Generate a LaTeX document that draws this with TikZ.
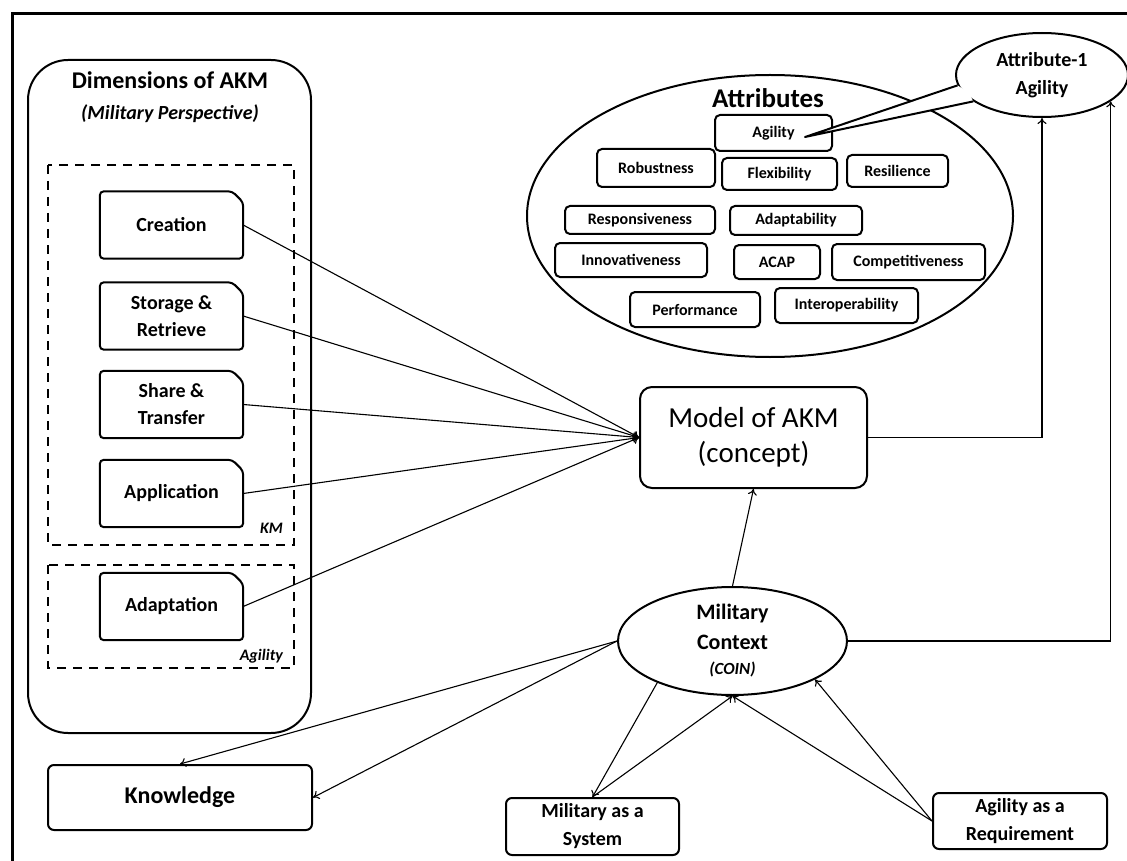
\documentclass[tikz,border=0pt]{standalone}
\usepackage{fontspec}
\setmainfont{Carlito}
\usetikzlibrary{shapes.geometric,arrows.meta,calc}

\begin{document}
\begin{tikzpicture}[x=1pt,y=-1pt,
  bx/.style={line width=2pt},
  dimbox/.style={minimum width=143pt,minimum height=67pt,inner sep=0pt,align=center,font=\fontsize{20}{27}\selectfont\bfseries},
  attrbox/.style={draw,line width=2pt,rounded corners=5pt,inner sep=0pt,font=\fontsize{16}{18}\selectfont\bfseries},
  roundbox/.style={draw,line width=2pt,rounded corners=6pt,inner sep=0pt,align=center,font=\fontsize{20}{28}\selectfont\bfseries},
  dashbox/.style={dash pattern=on 9pt off 7pt,line width=2pt},
  tag/.style={anchor=east,inner sep=0pt,font=\fontsize{16}{18}\selectfont\bfseries\itshape},
  arr/.style={-{To[length=6pt,width=9pt]},line width=1.1pt}]
	\useasboundingbox (0,0) rectangle (1127,861);
	\draw[line width=3pt] (12,14) rectangle (1140,875);

	\draw[bx,rounded corners=40pt] (28,60) rectangle (311,733);
	\node[font=\fontsize{24}{28}\selectfont\bfseries] (dimt) at (170,80) {Dimensions of AKM};
	\node[font=\fontsize{20}{24}\selectfont\bfseries\itshape] (dimp) at (170,114) {(Military Perspective)};
	\draw[dashbox] (48,165) rectangle (294,545);
	\node[tag] (kml) at (283,528) {KM};
	\draw[dashbox] (48,565) rectangle (294,668);
	\node[tag] (agll) at (283,656) {Agility};

	\node[dimbox] (crt) at (171.5,225)   {Creation};
	\node[dimbox] (sto) at (171.5,316)   {Storage \&\\Retrieve};
	\node[dimbox] (shr) at (171.5,404.5) {Share \&\\Transfer};
	\node[dimbox] (app) at (171.5,493.5) {Application};
	\node[dimbox] (adp) at (171.5,606.5) {Adaptation};
	\foreach \n in {crt,sto,shr,app,adp}
		\draw[bx,rounded corners=4pt] (\n.south west) -- (\n.north west) -- ([xshift=-11pt]\n.north east) -- ([yshift=-11pt]\n.north east) -- (\n.south east) -- cycle;

	\node[draw,ellipse,line width=2pt,minimum width=486pt,minimum height=282pt] (attrs) at (770,216) {};
	\node[font=\fontsize{27}{30}\selectfont\bfseries] (attrt) at (768,98) {Attributes};
	\node[attrbox,minimum width=117pt,minimum height=36pt] (agl) at (773.5,133) {Agility};
	\node[attrbox,minimum width=118pt,minimum height=38pt] (rob) at (656,168)   {Robustness};
	\node[attrbox,minimum width=115pt,minimum height=32pt] (flx) at (779.5,174) {Flexibility};
	\node[attrbox,minimum width=101pt,minimum height=32pt] (res) at (897.5,171) {Resilience};
	\node[attrbox,minimum width=150pt,minimum height=28pt] (rsp) at (640,220)   {Responsiveness};
	\node[attrbox,minimum width=132pt,minimum height=29pt] (adb) at (796,220.5) {Adaptability};
	\node[attrbox,minimum width=152pt,minimum height=34pt] (inn) at (631,260)   {Innovativeness};
	\node[attrbox,minimum width=86pt,minimum height=34pt]  (acp) at (777,262)   {ACAP};
	\node[attrbox,minimum width=153pt,minimum height=36pt] (cmp) at (908.5,262) {Competitiveness};
	\node[attrbox,minimum width=130pt,minimum height=35pt] (prf) at (695,309.5) {Performance};
	\node[attrbox,minimum width=143pt,minimum height=35pt] (itp) at (846.5,305.5) {Interoperability};

	\coordinate (tip) at (805,137);
	\node[draw,ellipse,fill=white,line width=2pt,minimum width=172pt,minimum height=84pt,inner sep=0pt,align=center,
		font=\fontsize{20}{28}\selectfont\bfseries] (attr1) at (1042,75) {Attribute-1\\Agility};
	\fill[white] (attr1.187) -- (tip) -- (attr1.201) -- ($(attr1.194)!5pt!(attr1.center)$) -- cycle;
	\draw[bx,line join=round] (attr1.187) -- (tip) -- (attr1.201);

	\node[draw,line width=2pt,rounded corners=12pt,minimum width=227pt,minimum height=101pt,align=center,
		font=\fontsize{29}{35}\selectfont] (model) at (753.5,437.5) {Model of AKM\\(concept)};
	\node[draw,ellipse,line width=2pt,minimum width=229pt,minimum height=108pt,inner sep=0pt,align=center,
		font=\fontsize{22}{30}\selectfont\bfseries] (ctx) at (732.5,641) {Military\\Context\\[-5pt]{\itshape\fontsize{17}{22}\selectfont (COIN)}};
	\node[roundbox,minimum width=173pt,minimum height=57pt] (sys) at (592.5,826.5) {Military as a\\System};
	\node[roundbox,minimum width=174pt,minimum height=56pt] (req) at (1020,821) {Agility as a\\Requirement};
	\node[roundbox,minimum width=264pt,minimum height=65pt,font=\fontsize{24}{28}\selectfont\bfseries] (know) at (180,797.5) {Knowledge};

	\path[arr] (crt.east) edge (model.west);
	\path[arr] (sto.east) edge (model.west);
	\path[arr] (shr.east) edge (model.west);
	\path[arr] (app.east) edge (model.west);
	\path[arr] (adp.east) edge (model.west);
	\path[arr] (ctx.north) edge (model.south);
	\path[arr] (ctx.west) edge (know.north);
	\path[arr] (ctx.west) edge (know.east);
	\path[arr] (ctx.209) edge (sys.north);
	\path[arr] (sys.north) edge (ctx.south);
	\path[arr] (req.west) edge (ctx.south);
	\path[arr] (req.west) edge (ctx.-25);
	\draw[arr] (model.east) -| (attr1.south);
	\draw[arr] (ctx.east) -| (attr1.-21);
\end{tikzpicture}
\end{document}
